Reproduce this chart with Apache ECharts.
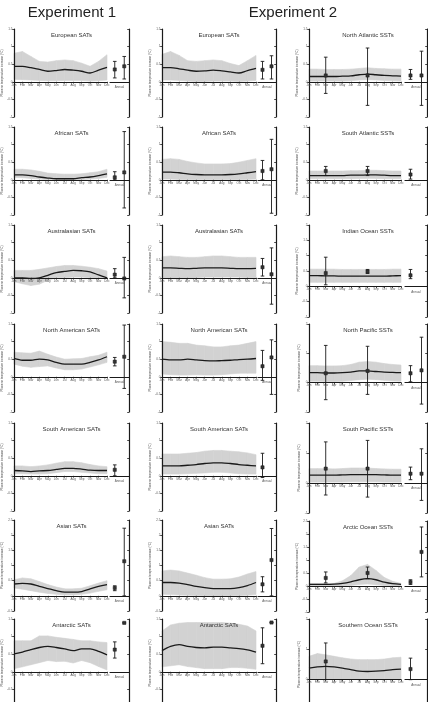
<!DOCTYPE html>
<html><head><meta charset="utf-8">
<script src="https://cdn.jsdelivr.net/npm/echarts@6/dist/echarts.min.js"></script>
<style>html,body{margin:0;padding:0;background:#fff}#c{width:428px;height:702px}</style>
</head><body><div id="c"></div><script>
// ---------- categories / labels ----------
const months = ['Jan','Feb','Mar','Apr','May','Jun','Jul','Aug','Sep','Oct','Nov','Dec'];
const annualSlots = ['A','B'];
const proxyMonthIdx = [2, 7];
const yName = 'Pliocene temperature increase (°C)';
const headers = ['Experiment 1', 'Experiment 2'];

// ---------- Experiment 1 SATs ----------
const eur1Mean = [0.44,0.44,0.40,0.35,0.30,0.32,0.35,0.33,0.30,0.25,0.33,0.41];
const eur1Hi   = [0.81,0.86,0.72,0.58,0.56,0.60,0.62,0.60,0.53,0.44,0.58,0.77];
const eur1Lo   = [0.07,0.06,0.05,0.04,0.03,0.03,0.04,0.04,0.04,0.02,0.03,0.05];
const eur1Ann  = [[0.35,0.11,0.58],[0.44,0.08,0.72]];

const afr1Mean = [0.14,0.14,0.12,0.08,0.05,0.03,0.03,0.03,0.06,0.08,0.12,0.17];
const afr1Hi   = [0.30,0.30,0.28,0.24,0.19,0.17,0.16,0.16,0.17,0.20,0.23,0.30];
const afr1Lo   = [0.07,0.06,0.04,0.02,0.00,-0.01,-0.01,-0.01,0.00,0.02,0.04,0.07];
const afr1Ann  = [[0.07,0.00,0.23],[0.21,-0.80,1.37]];

const aus1Mean = [0.00,0.00,-0.02,0.00,0.07,0.15,0.18,0.21,0.20,0.17,0.08,0.00];
const aus1Hi   = [0.21,0.21,0.21,0.24,0.28,0.32,0.35,0.35,0.33,0.30,0.26,0.19];
const aus1Lo   = [-0.11,-0.17,-0.22,-0.18,-0.07,0.00,0.00,0.02,0.02,0.00,-0.02,-0.02];
const aus1Ann  = [[0.09,0.00,0.26],[-0.02,-0.57,0.58]];

const nam1Mean = [0.52,0.47,0.47,0.50,0.48,0.41,0.36,0.36,0.36,0.41,0.48,0.57];
const nam1Hi   = [0.70,0.68,0.67,0.73,0.64,0.56,0.50,0.51,0.52,0.57,0.61,0.70];
const nam1Lo   = [0.36,0.30,0.27,0.29,0.31,0.25,0.20,0.20,0.22,0.28,0.34,0.41];
const nam1Ann  = [[0.43,0.31,0.55],[0.57,-0.33,1.47]];

const sam1Mean = [0.15,0.14,0.12,0.14,0.15,0.18,0.21,0.21,0.19,0.16,0.15,0.15];
const sam1Hi   = [0.28,0.28,0.26,0.28,0.31,0.36,0.40,0.40,0.37,0.32,0.28,0.26];
const sam1Lo   = [0.06,0.06,0.05,0.05,0.06,0.09,0.12,0.12,0.10,0.08,0.06,0.06];
const sam1Ann  = [[0.17,0.00,0.31],null];

const asi1Mean = [0.39,0.41,0.39,0.31,0.24,0.17,0.12,0.12,0.14,0.23,0.31,0.37];
const asi1Hi   = [0.53,0.59,0.56,0.47,0.37,0.29,0.23,0.23,0.25,0.33,0.42,0.50];
const asi1Lo   = [0.26,0.22,0.17,0.12,0.08,0.05,0.03,0.03,0.05,0.09,0.15,0.20];
const asi1Ann  = [[0.26,0.17,0.33],[1.14,0.00,2.23]];

const ant1Mean = [0.51,0.56,0.63,0.69,0.72,0.69,0.65,0.60,0.65,0.65,0.58,0.48];
const ant1Hi   = [0.88,0.88,0.88,1.02,1.02,0.98,0.95,0.92,0.88,0.88,0.85,0.83];
const ant1Lo   = [0.09,0.14,0.20,0.26,0.32,0.29,0.30,0.25,0.32,0.26,0.15,0.05];
const ant1Ann  = [[0.63,0.39,0.85],[1.39,1.39,1.39]];

// ---------- Experiment 2 SATs ----------
const eur2Mean = [0.40,0.40,0.37,0.33,0.30,0.31,0.33,0.31,0.28,0.25,0.32,0.38];
const eur2Hi   = [0.78,0.86,0.75,0.60,0.58,0.60,0.62,0.60,0.52,0.46,0.60,0.75];
const eur2Lo   = [0.05,0.05,0.04,0.02,0.01,0.01,0.02,0.02,0.02,0.01,0.02,0.04];
const eur2Ann  = [[0.34,0.08,0.58],[0.44,0.08,0.74]];

const afr2Mean = [0.22,0.22,0.20,0.17,0.15,0.14,0.14,0.14,0.15,0.17,0.20,0.23];
const afr2Hi   = [0.58,0.60,0.58,0.52,0.48,0.45,0.45,0.45,0.46,0.50,0.55,0.60];
const afr2Lo   = [0.02,0.02,0.01,0.00,0.00,0.00,0.00,0.00,0.00,0.00,0.01,0.02];
const afr2Ann  = [[0.25,0.00,0.55],[0.30,-0.95,1.15]];

const aus2Mean = [0.28,0.28,0.27,0.26,0.27,0.28,0.28,0.28,0.27,0.26,0.26,0.27];
const aus2Hi   = [0.60,0.62,0.60,0.58,0.58,0.60,0.62,0.62,0.60,0.58,0.58,0.58];
const aus2Lo   = [0.00,-0.02,-0.03,-0.02,0.00,0.02,0.02,0.02,0.02,0.02,0.00,0.00];
const aus2Ann  = [[0.30,0.05,0.55],[0.10,-0.75,0.85]];

const nam2Mean = [0.50,0.48,0.48,0.50,0.48,0.46,0.45,0.46,0.47,0.49,0.50,0.52];
const nam2Hi   = [1.00,0.98,0.95,0.95,0.90,0.88,0.85,0.85,0.88,0.90,0.95,1.00];
const nam2Lo   = [0.08,0.06,0.05,0.05,0.06,0.05,0.05,0.06,0.08,0.10,0.10,0.10];
const nam2Ann  = [[0.30,-0.10,0.75],[0.55,-0.50,1.05]];

const sam2Mean = [0.28,0.28,0.28,0.30,0.32,0.35,0.37,0.37,0.35,0.32,0.30,0.28];
const sam2Hi   = [0.62,0.62,0.62,0.64,0.66,0.70,0.72,0.72,0.70,0.68,0.65,0.60];
const sam2Lo   = [0.05,0.05,0.05,0.06,0.07,0.08,0.10,0.10,0.08,0.06,0.05,0.05];
const sam2Ann  = [[0.24,-0.05,0.64],null];

const asi2Mean = [0.44,0.44,0.42,0.37,0.31,0.27,0.24,0.24,0.24,0.27,0.34,0.44];
const asi2Hi   = [0.82,0.85,0.82,0.75,0.68,0.60,0.55,0.55,0.56,0.62,0.72,0.80];
const asi2Lo   = [0.05,0.04,0.03,0.02,0.01,0.00,0.00,0.00,0.00,0.01,0.02,0.04];
const asi2Ann  = [[0.38,0.13,0.63],[1.18,0.00,2.22]];

const ant2Mean = [0.60,0.72,0.77,0.72,0.69,0.68,0.70,0.70,0.68,0.66,0.62,0.56];
const ant2Hi   = [1.16,1.33,1.38,1.40,1.40,1.40,1.40,1.40,1.38,1.35,1.30,1.16];
const ant2Lo   = [0.14,0.17,0.20,0.15,0.12,0.09,0.09,0.09,0.12,0.12,0.10,0.07];
const ant2Ann  = [[0.74,0.23,1.25],[1.40,1.40,1.40]];

// ---------- Experiment 2 SSTs ----------
const natMean = [0.15,0.15,0.15,0.15,0.16,0.17,0.20,0.22,0.20,0.18,0.17,0.16];
const natHi   = [0.36,0.36,0.35,0.35,0.35,0.36,0.38,0.40,0.38,0.37,0.36,0.36];
const natLo   = [0.02,0.02,0.02,0.02,0.02,0.03,0.05,0.06,0.05,0.04,0.03,0.02];
const natProxy = [[0.18,-0.33,0.70],[0.18,-0.67,0.96]];
const natAnn  = [[0.18,0.07,0.35],[0.18,-0.67,0.87]];

const satMean = [0.12,0.12,0.12,0.12,0.12,0.13,0.13,0.14,0.14,0.13,0.12,0.12];
const satHi   = [0.25,0.25,0.25,0.25,0.25,0.26,0.26,0.27,0.27,0.26,0.25,0.25];
const satLo   = [0.03,0.03,0.03,0.03,0.03,0.03,0.04,0.04,0.04,0.03,0.03,0.03];
const satProxy = [[0.25,0.12,0.38],[0.25,0.12,0.38]];
const satAnn  = [[0.15,0.02,0.30],null];

const indMean = [0.35,0.35,0.34,0.34,0.33,0.33,0.33,0.33,0.33,0.33,0.34,0.35];
const indHi   = [0.56,0.56,0.56,0.56,0.55,0.55,0.55,0.55,0.55,0.55,0.56,0.56];
const indLo   = [0.13,0.13,0.13,0.13,0.13,0.13,0.13,0.13,0.13,0.13,0.13,0.13];
const indProxy = [[0.43,0.05,0.95],[0.48,0.42,0.55]];
const indAnn  = [[0.36,0.25,0.55],null];

const npaMean = [0.34,0.34,0.33,0.33,0.34,0.36,0.40,0.40,0.38,0.36,0.35,0.34];
const npaHi   = [0.58,0.58,0.57,0.57,0.58,0.62,0.70,0.72,0.70,0.65,0.62,0.60];
const npaLo   = [0.05,0.05,0.04,0.04,0.05,0.07,0.10,0.12,0.10,0.08,0.06,0.05];
const npaProxy = [[0.32,-0.58,1.27],[0.40,-0.40,1.24]];
const npaAnn  = [[0.32,0.03,0.58],[0.42,-0.73,1.55]];

const spaMean = [0.26,0.26,0.26,0.26,0.27,0.28,0.28,0.28,0.28,0.27,0.26,0.26];
const spaHi   = [0.48,0.48,0.48,0.47,0.48,0.50,0.50,0.50,0.48,0.47,0.46,0.46];
const spaLo   = [0.03,0.03,0.03,0.03,0.03,0.04,0.04,0.04,0.04,0.03,0.03,0.03];
const spaProxy = [[0.48,-0.40,1.37],[0.48,-0.47,1.42]];
const spaAnn  = [[0.31,0.11,0.53],[0.31,-0.58,1.14]];

const arcMean = [0.06,0.06,0.06,0.07,0.10,0.16,0.24,0.28,0.24,0.15,0.09,0.06];
const arcHi   = [0.10,0.10,0.10,0.10,0.20,0.40,0.73,0.83,0.60,0.33,0.18,0.10];
const arcLo   = [0.00,0.00,0.00,0.00,0.00,0.02,0.06,0.08,0.05,0.02,0.00,0.00];
const arcProxy = [[0.31,0.12,0.54],[0.50,0.28,0.73]];
const arcAnn  = [[0.15,0.06,0.24],[1.31,0.35,2.27]];

const socMean = [0.38,0.42,0.44,0.42,0.38,0.33,0.28,0.27,0.28,0.30,0.33,0.35];
const socHi   = [0.77,0.86,0.82,0.77,0.72,0.68,0.66,0.66,0.66,0.68,0.72,0.74];
const socLo   = [0.02,0.02,0.02,0.02,0.02,0.02,0.02,0.02,0.02,0.02,0.02,0.02];
const socProxy = [[0.60,0.00,1.21],null];
const socAnn  = [[0.35,0.00,0.71],null];

// ---------- panel definitions (col, row, scale) ----------
const panels = [
  {t:'European SATs',      c:0,r:0,m:eur1Mean,lo:eur1Lo,hi:eur1Hi,ann:eur1Ann,yMin:-1,yMax:1.5,yInt:0.5},
  {t:'African SATs',       c:0,r:1,m:afr1Mean,lo:afr1Lo,hi:afr1Hi,ann:afr1Ann,yMin:-1,yMax:1.5,yInt:0.5},
  {t:'Australasian SATs',  c:0,r:2,m:aus1Mean,lo:aus1Lo,hi:aus1Hi,ann:aus1Ann,yMin:-1,yMax:1.5,yInt:0.5},
  {t:'North American SATs',c:0,r:3,m:nam1Mean,lo:nam1Lo,hi:nam1Hi,ann:nam1Ann,yMin:-1,yMax:1.5,yInt:0.5},
  {t:'South American SATs',c:0,r:4,m:sam1Mean,lo:sam1Lo,hi:sam1Hi,ann:sam1Ann,yMin:-1,yMax:1.5,yInt:0.5},
  {t:'Asian SATs',         c:0,r:5,m:asi1Mean,lo:asi1Lo,hi:asi1Hi,ann:asi1Ann,yMin:-0.5,yMax:2.5,yInt:0.5},
  {t:'Antarctic SATs',     c:0,r:6,m:ant1Mean,lo:ant1Lo,hi:ant1Hi,ann:ant1Ann,yMin:-1,yMax:1.5,yInt:0.5},
  {t:'European SATs',      c:1,r:0,m:eur2Mean,lo:eur2Lo,hi:eur2Hi,ann:eur2Ann,yMin:-1,yMax:1.5,yInt:0.5},
  {t:'African SATs',       c:1,r:1,m:afr2Mean,lo:afr2Lo,hi:afr2Hi,ann:afr2Ann,yMin:-1,yMax:1.5,yInt:0.5},
  {t:'Australasian SATs',  c:1,r:2,m:aus2Mean,lo:aus2Lo,hi:aus2Hi,ann:aus2Ann,yMin:-1,yMax:1.5,yInt:0.5},
  {t:'North American SATs',c:1,r:3,m:nam2Mean,lo:nam2Lo,hi:nam2Hi,ann:nam2Ann,yMin:-1,yMax:1.5,yInt:0.5},
  {t:'South American SATs',c:1,r:4,m:sam2Mean,lo:sam2Lo,hi:sam2Hi,ann:sam2Ann,yMin:-1,yMax:1.5,yInt:0.5},
  {t:'Asian SATs',         c:1,r:5,m:asi2Mean,lo:asi2Lo,hi:asi2Hi,ann:asi2Ann,yMin:-0.5,yMax:2.5,yInt:0.5},
  {t:'Antarctic SATs',     c:1,r:6,m:ant2Mean,lo:ant2Lo,hi:ant2Hi,ann:ant2Ann,yMin:-1,yMax:1.5,yInt:0.5},
  {t:'North Atlantic SSTs',c:2,r:0,m:natMean,lo:natLo,hi:natHi,ann:natAnn,px:natProxy,yMin:-1,yMax:1.5,yInt:0.5},
  {t:'South Atlantic SSTs',c:2,r:1,m:satMean,lo:satLo,hi:satHi,ann:satAnn,px:satProxy,yMin:-1,yMax:1.5,yInt:0.5},
  {t:'Indian Ocean SSTs',  c:2,r:2,m:indMean,lo:indLo,hi:indHi,ann:indAnn,px:indProxy,yMin:-1,yMax:2,yInt:0.5},
  {t:'North Pacific SSTs', c:2,r:3,m:npaMean,lo:npaLo,hi:npaHi,ann:npaAnn,px:npaProxy,yMin:-1,yMax:2,yInt:1},
  {t:'South Pacific SSTs', c:2,r:4,m:spaMean,lo:spaLo,hi:spaHi,ann:spaAnn,px:spaProxy,yMin:-1,yMax:2,yInt:1},
  {t:'Arctic Ocean SSTs',  c:2,r:5,m:arcMean,lo:arcLo,hi:arcHi,ann:arcAnn,px:arcProxy,yMin:-1,yMax:2.5,yInt:0.5},
  {t:'Southern Ocean SSTs',c:2,r:6,m:socMean,lo:socLo,hi:socHi,ann:socAnn,px:socProxy,yMin:-1,yMax:2,yInt:1}
];

// ---------- layout (pixels) ----------
const colMain = [{left:14,width:93},{left:162,width:94},{left:309,width:92}];
const colAnn  = [{left:110,width:19},{left:258,width:18},{left:405,width:22}];
const rowTop  = [[29,127,225,324,423,520,619],[29,127,225,324,423,520,619],[29,127,225,324,423,521,619]];
const panelH  = [[88,88,88,88,88,91,88],[88,88,88,88,88,91,88],[88,88,92,88,90,91,91]];

const ink = '#1a1a1a';
const FONT = 'Liberation Sans, Arial, sans-serif';

function errRender(params, api){
  const x = api.value(0), c = api.value(1), lo = api.value(2), hi = api.value(3);
  const pc = api.coord([x,c]), pl = api.coord([x,lo]), ph = api.coord([x,hi]);
  const cw = 1.8, s = 1.6, st = {stroke:ink, lineWidth:0.9};
  const ch = [
    {type:'line', shape:{x1:pc[0],y1:pl[1],x2:pc[0],y2:ph[1]}, style:st},
    {type:'line', shape:{x1:pc[0]-cw,y1:pl[1],x2:pc[0]+cw,y2:pl[1]}, style:st},
    {type:'line', shape:{x1:pc[0]-cw,y1:ph[1],x2:pc[0]+cw,y2:ph[1]}, style:st},
    {type:'rect', shape:{x:pc[0]-s,y:pc[1]-s,width:2*s,height:2*s}, style:{fill:'#333',stroke:ink,lineWidth:0.5}}
  ];
  return {type:'group', children:ch};
}

const grid=[], xAxis=[], yAxis=[], series=[], graphic=[];
panels.forEach((p,k)=>{
  const cm = colMain[p.c], ca = colAnn[p.c], top = rowTop[p.c][p.r], h = panelH[p.c][p.r];
  const gi = 2*k;
  // distance from grid bottom up to the zero line, from the axis scale
  const zeroOff = -h * (0 - p.yMin) / (p.yMax - p.yMin);
  grid.push({left:cm.left, top:top, width:cm.width, height:h, outerBoundsMode:'none'});
  grid.push({left:ca.left, top:top, width:ca.width, height:h, outerBoundsMode:'none'});
  xAxis.push({gridIndex:gi, type:'category', data:months, boundaryGap:false, z:10, position:'bottom', offset:zeroOff,
    axisLine:{show:true, onZero:false, lineStyle:{color:ink, width:1.2}},
    axisTick:{show:true, length:1.8, lineStyle:{color:ink,width:0.8}},
    axisLabel:{fontSize:3, margin:1.5, color:'#555', interval:0, fontFamily:FONT}, splitLine:{show:false}});
  xAxis.push({gridIndex:gi+1, type:'category', data:annualSlots, boundaryGap:true, z:10, position:'bottom', offset:zeroOff,
    axisLine:{show:true, onZero:false, lineStyle:{color:ink, width:1.2}},
    axisTick:{show:false}, axisLabel:{show:false}, splitLine:{show:false},
    name:'Annual', nameLocation:'middle', nameGap:4, nameTextStyle:{fontSize:3, color:'#555', fontFamily:FONT}});
  yAxis.push({gridIndex:gi, type:'value', min:p.yMin, max:p.yMax, interval:p.yInt, z:10,
    axisLine:{show:true, onZero:false, lineStyle:{color:ink, width:1.2}}, axisTick:{show:true, length:1.8, lineStyle:{color:ink,width:0.8}},
    axisLabel:{fontSize:3, margin:1.5, color:'#555', fontFamily:FONT}, splitLine:{show:false},
    name:yName, nameLocation:'middle', nameGap:7, nameTextStyle:{fontSize:3, color:'#555', fontFamily:FONT}});
  yAxis.push({gridIndex:gi+1, type:'value', position:'right', min:p.yMin, max:p.yMax, interval:p.yInt, z:10,
    axisLine:{show:true, onZero:false, lineStyle:{color:ink, width:1.2}}, axisTick:{show:true, inside:true, length:1.8, lineStyle:{color:ink,width:0.8}},
    axisLabel:{show:false}, splitLine:{show:false}});

  const band = p.lo.map((v,i)=>[i, v, p.hi[i]]);
  series.push({type:'custom', xAxisIndex:gi, yAxisIndex:gi, silent:true, z:1, data:band,
    renderItem:(params, api)=>{
      const i = params.dataIndex;
      if (i >= band.length-1) return null;
      const a = band[i], b = band[i+1];
      const pts = [api.coord([a[0],a[1]]), api.coord([b[0],b[1]]), api.coord([b[0],b[2]]), api.coord([a[0],a[2]])];
      return {type:'polygon', shape:{points:pts}, style:{fill:'#d2d2d2', stroke:'#d2d2d2', lineWidth:0.6}};
    }});
  series.push({type:'line', xAxisIndex:gi, yAxisIndex:gi, data:p.m, showSymbol:false, smooth:0.3, z:3, silent:true,
    lineStyle:{color:ink, width:1.3}});
  if (p.px) {
    const pd = [];
    p.px.forEach((e,j)=>{ if (e) pd.push([proxyMonthIdx[j], e[0], e[1], e[2]]); });
    series.push({type:'custom', xAxisIndex:gi, yAxisIndex:gi, z:5, silent:true, data:pd, renderItem:errRender});
  }
  const ad = [];
  p.ann.forEach((e,j)=>{ if (e) ad.push([j, e[0], e[1], e[2]]); });
  series.push({type:'custom', xAxisIndex:gi+1, yAxisIndex:gi+1, z:5, silent:true, data:ad, renderItem:errRender});

  graphic.push({type:'text', x:(cm.left + ca.left + ca.width)/2, y:top+6, z:20,
    style:{text:p.t, fontSize:6, fill:'#333', align:'center', verticalAlign:'middle', fontFamily:FONT}});
});
graphic.push({type:'text', x:72, y:13, style:{text:headers[0], fontSize:15, fill:'#222', align:'center', verticalAlign:'middle', fontFamily:FONT}});
graphic.push({type:'text', x:293, y:13, style:{text:headers[1], fontSize:15, fill:'#222', align:'center', verticalAlign:'middle', fontFamily:FONT}});

const chart = echarts.init(document.getElementById('c'), null, {renderer:'canvas'});
chart.setOption({animation:false, backgroundColor:'#fff', textStyle:{fontFamily:FONT},
  grid, xAxis, yAxis, series, graphic});
</script></body></html>
